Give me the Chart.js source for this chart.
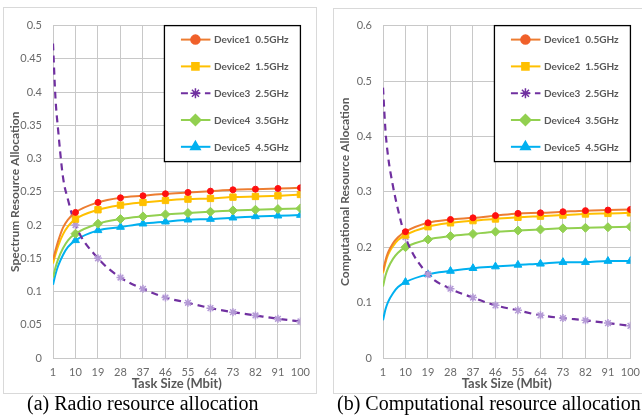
<!DOCTYPE html>
<html lang="en">
<head>
<meta charset="UTF-8">
<title>Resource allocation vs task size</title>
<script src="https://cdn.jsdelivr.net/npm/chart.js"></script>
<style>
  body { margin: 0; background: #fff; width: 642px; height: 418px; overflow: hidden; position: relative; }
  .frame { position: absolute; border: 1px solid #d9d9d9; box-sizing: border-box; }
  canvas { position: absolute; }
  .caption { position: absolute; font-family: "Liberation Serif", "Times New Roman", serif; font-size: 20px; line-height: 20px; color: #000; white-space: nowrap; }
</style>
</head>
<body>
<div class="frame" style="left:3px;top:7px;width:314px;height:387px"></div>
<div class="frame" style="left:333px;top:8px;width:330px;height:386px"></div>
<canvas id="radioChart" width="315" height="386" style="left:3px;top:8px"></canvas>
<canvas id="compChart" width="315" height="386" style="left:333px;top:8px"></canvas>
<div class="caption" style="left:27px;top:393px">(a) Radio resource allocation</div>
<div class="caption" style="left:337px;top:393px">(b) Computational resource allocation</div>

<script>
const taskSizes = [1, 2, 3, 5, 7, 10, 19, 28, 37, 46, 55, 64, 73, 82, 91, 100];
// markers only sit on the labelled sizes
const markedSizes = [10, 19, 28, 37, 46, 55, 64, 73, 82, 91, 100];

const deviceLabels = ['Device1  0.5GHz', 'Device2  1.5GHz', 'Device3  2.5GHz', 'Device4  3.5GHz', 'Device5  4.5GHz'];

// (a) spectrum resource allocation
const radioDev1 = [0.148, 0.162, 0.175, 0.196, 0.208, 0.219, 0.234, 0.241, 0.244, 0.247, 0.249, 0.251, 0.253, 0.254, 0.255, 0.256];
const radioDev2 = [0.142, 0.156, 0.168, 0.186, 0.198, 0.209, 0.223, 0.230, 0.234, 0.237, 0.239, 0.240, 0.242, 0.243, 0.244, 0.246];
const radioDev3 = [0.473, 0.390, 0.345, 0.272, 0.238, 0.200, 0.150, 0.121, 0.104, 0.091, 0.083, 0.075, 0.069, 0.064, 0.059, 0.055];
const radioDev4 = [0.121, 0.136, 0.148, 0.165, 0.177, 0.187, 0.202, 0.209, 0.213, 0.216, 0.218, 0.220, 0.222, 0.223, 0.224, 0.225];
const radioDev5 = [0.110, 0.126, 0.138, 0.155, 0.167, 0.177, 0.192, 0.197, 0.202, 0.205, 0.208, 0.209, 0.211, 0.213, 0.214, 0.215];

// (b) computational resource allocation
const compDev1 = [0.156, 0.176, 0.190, 0.207, 0.218, 0.228, 0.244, 0.250, 0.253, 0.257, 0.261, 0.262, 0.264, 0.266, 0.267, 0.268];
const compDev2 = [0.153, 0.172, 0.186, 0.202, 0.213, 0.222, 0.237, 0.244, 0.248, 0.251, 0.254, 0.256, 0.258, 0.260, 0.261, 0.262];
const compDev3 = [0.488, 0.410, 0.365, 0.310, 0.268, 0.218, 0.151, 0.125, 0.109, 0.095, 0.086, 0.077, 0.072, 0.068, 0.063, 0.058];
const compDev4 = [0.129, 0.149, 0.162, 0.179, 0.190, 0.200, 0.214, 0.220, 0.224, 0.228, 0.230, 0.232, 0.234, 0.235, 0.236, 0.237];
const compDev5 = [0.068, 0.088, 0.101, 0.117, 0.128, 0.137, 0.151, 0.157, 0.162, 0.165, 0.168, 0.170, 0.173, 0.173, 0.175, 0.175];

// styles
const lineColors = ['#ED7D31', '#FFC000', '#7030A0', '#92D050', '#00B0F0'];
const markerColors = ['#FF1010', '#FFC000', '#B49AD6', '#92D050', '#00B0F0'];
const legendMarkerColors = ['#F0602A', '#FFC000', '#7030A0', '#92D050', '#00B0F0'];
const markerStyles = ['circle', 'rect', 'star', 'rectRot', 'triangle'];
const markerSizes = [3, 4.5, 4, 4.5, 4.5];
const legendMarkerSizes = [4.5, 5, 5, 5.5, 5.5];

const gridColor = '#c8c8c8';
const textColor = '#595959';
const tickColor = '#6a6a6a';

// legend box drawn inside the plot, top right corner
const boxLegend = {
    id: 'boxLegend',
    afterDatasetsDraw(chart) {
        const { ctx, chartArea } = chart;
        const w = 136, h = 136;
        const left = chartArea.right - w, top = chartArea.top;
        ctx.save();
        ctx.fillStyle = '#fff';
        ctx.fillRect(left, top, w, h);
        ctx.strokeStyle = '#000';
        ctx.lineWidth = 1.3;
        ctx.strokeRect(left, top, w, h);

        chart.data.datasets.forEach((ds, i) => {
            const y = top + 14 + i * 26.8;
            ctx.strokeStyle = ds.borderColor;
            ctx.lineWidth = 2;
            ctx.setLineDash(ds.borderDash || []);
            ctx.beginPath();
            ctx.moveTo(left + 16.5, y);
            ctx.lineTo(left + 46, y);
            ctx.stroke();
            ctx.setLineDash([]);

            ctx.fillStyle = legendMarkerColors[i];
            ctx.strokeStyle = legendMarkerColors[i];
            ctx.lineWidth = 1.5;
            Chart.helpers.drawPoint(ctx, {
                pointStyle: markerStyles[i], radius: legendMarkerSizes[i], rotation: 0, borderWidth: 1.5
            }, left + 31, y);

            ctx.fillStyle = textColor;
            ctx.font = 'bold 10px Lato';
            ctx.textBaseline = 'middle';
            ctx.textAlign = 'left';
            ctx.fillText(ds.label, left + 49.5, y + 0.5);
        });
        ctx.restore();
    }
};

function buildDatasets(seriesList) {
    return seriesList.map((values, i) => ({
        label: deviceLabels[i],
        data: values.map((v, k) => ({ x: taskSizes[k], y: v })),
        borderColor: lineColors[i],
        backgroundColor: markerColors[i],
        borderWidth: i === 2 ? 2.2 : 2,
        borderDash: i === 2 ? [7, 5] : [],
        cubicInterpolationMode: 'monotone',
        pointStyle: markerStyles[i],
        pointRadius: c => (c.raw && markedSizes.includes(c.raw.x)) ? markerSizes[i] : 0,
        pointBackgroundColor: markerColors[i],
        pointBorderColor: markerColors[i],
        pointBorderWidth: i === 2 ? 1.5 : 1
    }));
}

function makePanel(id, seriesList, yMax, yStep, yTitle) {
    const tickFont = { family: 'Lato', size: 11 };
    const titleFont = { family: 'Lato', size: 12, weight: 'bold' };
    new Chart(document.getElementById(id), {
        type: 'line',
        data: { datasets: buildDatasets(seriesList) },
        options: {
            responsive: false,
            animation: false,
            devicePixelRatio: 1,
            layout: { padding: { left: 0, right: 15, top: 10, bottom: 0 } },
            plugins: { legend: { display: false }, tooltip: { enabled: false } },
            scales: {
                x: {
                    type: 'linear', min: 1, max: 100,
                    ticks: { stepSize: 9, autoSkip: false, maxRotation: 0, padding: 8, color: tickColor, font: tickFont },
                    grid: { color: gridColor, drawTicks: false },
                    border: { color: gridColor },
                    title: {
                        display: true, text: 'Task Size (Mbit)', color: textColor,
                        font: { family: 'Lato', size: 13, weight: 'bold' }, padding: { top: 0, bottom: 2 }
                    },
                    afterFit: s => { s.height = 36; }
                },
                y: {
                    min: 0, max: yMax,
                    ticks: {
                        stepSize: yStep, padding: 11, color: tickColor, font: tickFont,
                        callback: v => String(parseFloat(v.toFixed(2)))
                    },
                    grid: { color: gridColor, drawTicks: false },
                    border: { color: gridColor },
                    title: { display: true, text: yTitle, color: textColor, font: titleFont, padding: { top: 5, bottom: 0 } },
                    afterFit: s => { s.width = 50; }
                }
            }
        },
        plugins: [boxLegend]
    });
}

makePanel('radioChart', [radioDev1, radioDev2, radioDev3, radioDev4, radioDev5], 0.5, 0.05, 'Spectrum Resource Allocation');
makePanel('compChart', [compDev1, compDev2, compDev3, compDev4, compDev5], 0.6, 0.1, 'Computational Resource Allocation');
</script>
</body>
</html>
